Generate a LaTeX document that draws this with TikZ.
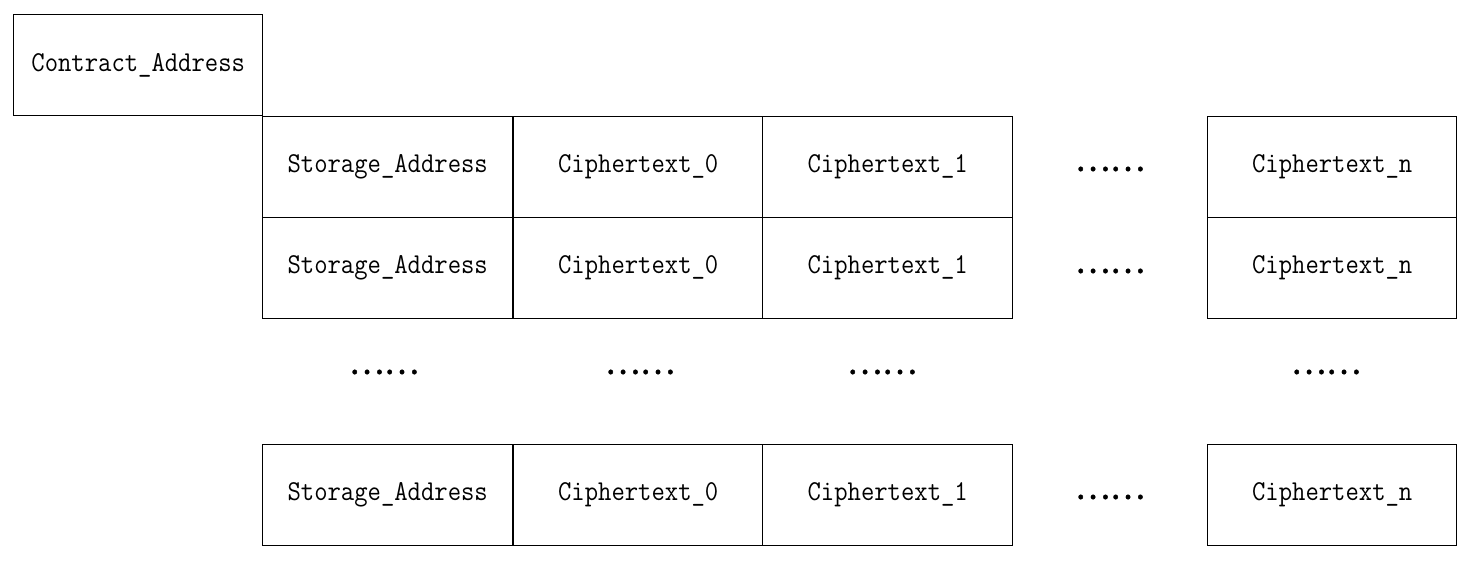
\documentclass[tikz,border=0pt]{standalone}
\usepackage{fontspec}
\newfontfamily\cjkfont[FakeBold=1.2]{Noto Sans CJK SC}
\newfontfamily\cellfont[FakeStretch=0.9]{Latin Modern Mono}
\begin{document}
\begin{tikzpicture}[x=0.5pt,y=-0.5pt,
  cell/.style={draw,line width=0.7pt,minimum width=125pt,minimum height=50.5pt,inner sep=0pt,font=\cellfont\fontsize{14.4}{15}\selectfont,anchor=north west},
  dots/.style={font=\cjkfont\fontsize{16.5}{17}\selectfont,inner sep=0pt}]
\useasboundingbox (0,0) rectangle (1481,562);
\node[cell,minimum width=124.5pt] (ca) at (13,14) {Contract\_Address};
% row 1
\node[cell] (s1) at (262,116) {Storage\_Address};
\node[cell,minimum width=124.5pt] (a1) at (513,116) {Ciphertext\_0};
\node[cell] (b1) at (762,116) {Ciphertext\_1};
\node[dots] (d1) at (1110,169) {……};
\node[cell,minimum width=124.5pt] (n1) at (1207,116) {Ciphertext\_n};
% row 2
\node[cell] (s2) at (262,217) {Storage\_Address};
\node[cell,minimum width=124.5pt] (a2) at (513,217) {Ciphertext\_0};
\node[cell] (b2) at (762,217) {Ciphertext\_1};
\node[dots] (d2) at (1110,271) {……};
\node[cell,minimum width=124.5pt] (n2) at (1207,217) {Ciphertext\_n};
% dots row
\node[dots] (e1) at (384,372) {……};
\node[dots] (e2) at (640,372) {……};
\node[dots] (e3) at (882,372) {……};
\node[dots] (e4) at (1326,372) {……};
% row 3
\node[cell] (s3) at (262,443.5) {Storage\_Address};
\node[cell,minimum width=124.5pt] (a3) at (513,443.5) {Ciphertext\_0};
\node[cell] (b3) at (762,443.5) {Ciphertext\_1};
\node[dots] (d3) at (1110,497) {……};
\node[cell,minimum width=124.5pt] (n3) at (1207,443.5) {Ciphertext\_n};
\end{tikzpicture}
\end{document}
